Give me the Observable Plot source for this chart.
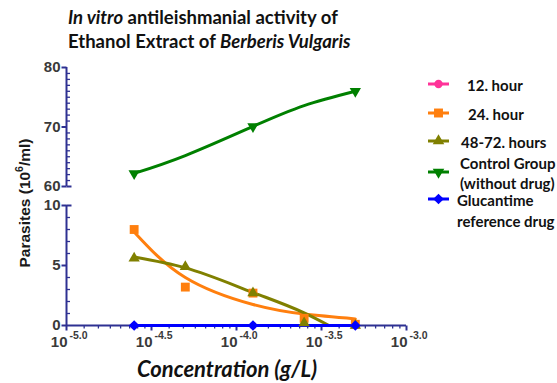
<!DOCTYPE html>
<html><head><meta charset="utf-8">
<script src="https://cdn.jsdelivr.net/npm/d3@7"></script>
<script src="https://cdn.jsdelivr.net/npm/@observablehq/plot@0.6"></script>
<style>
html,body{margin:0;padding:0;background:#fff}
body{width:557px;height:383px;overflow:hidden;position:relative;font-family:Lato,"Open Sans",sans-serif}
#chart{position:absolute;left:0;top:0}
#title{position:absolute;left:68px;top:5px;font-weight:bold;font-size:18.5px;line-height:24px;color:#111;white-space:nowrap}
#ylab{position:absolute;left:25px;top:203px;transform:translate(-50%,-50%) rotate(-90deg);font-family:"Liberation Sans",Arial,sans-serif;font-weight:bold;font-size:15.5px;color:#1a1a1a;white-space:nowrap}
#ylab sup{font-size:10.5px;vertical-align:7px;line-height:0}
#xlab{position:absolute;left:227px;top:357px;transform:translateX(-50%);font-weight:bold;font-style:italic;font-size:22px;line-height:23px;color:#111;white-space:nowrap}
.leg{position:absolute;left:426px;white-space:nowrap;font-weight:bold;font-size:15px;color:#111;line-height:20px}
.leg svg{position:absolute;left:0;top:0}
.leg span{position:absolute;white-space:nowrap}
</style></head><body>
<div id="chart"></div>
<div id="title"><i>In vitro</i> antileishmanial activity of<br>Ethanol Extract of <i>Berberis Vulgaris</i></div>
<div id="ylab">Parasites (10<sup>6</sup>/ml)</div>
<div id="xlab">Concentration (g/L)</div>
<div id="legend"></div>
<script>
// ---- data ----
const concentrations = [2.5e-5, 5e-5, 1.25e-4, 2.5e-4, 5e-4];
const hour24 = [8.0, 3.2, 2.7, 0.6, 0.1];
const hour48_72 = [5.6, 4.9, 2.7, 0.2, 0];
const fit24 = [7.8, 4.0, 1.75, 0.95, 0.55];
const fit48Conc = [2.5e-5, 5e-5, 1.25e-4, 2.5e-4, 3.5e-4];
const fit48 = [5.7, 4.8, 2.75, 1.05, 0];
const controlConc = [2.5e-5, 1.25e-4, 5e-4];
const control = [62.2, 70.1, 76.0];
const controlFit = [62.2, 65.2, 70.1, 73.6, 76.0];
const glucConc = [2.5e-5, 1.25e-4, 5e-4];
const glucantime = [0, 0, 0];
const hour12 = [0, 0, 0];
const xTickExponents = [-5.0, -4.5, -4.0, -3.5, -3.0];
const yTicksLower = [0, 5, 10];
const yTicksUpper = [60, 70, 80];
const seriesNames = ["12. hour", "24. hour", "48-72. hours", "Control Group\n(without drug)", "Glucantime\nreference drug"];
const seriesColors = ["#ff3399", "#ff7f0e", "#808000", "#008000", "#0000ff"];

const navy = "#2e3192";
const triDown = {draw(c, size) {
  const y = -Math.sqrt(size / (Math.sqrt(3) * 3));
  c.moveTo(0, -y * 2); c.lineTo(-Math.sqrt(3) * y, y); c.lineTo(Math.sqrt(3) * y, y); c.closePath();
}};
const tickL = {draw(c) { c.moveTo(0, 0); c.lineTo(-5, 0); }};
const tickR = {draw(c) { c.moveTo(0, 0); c.lineTo(5, 0); }};
const tickRs = {draw(c) { c.moveTo(0, 0); c.lineTo(3.5, 0); }};
const tickD = {draw(c) { c.moveTo(0, 0); c.lineTo(0, 5); }};
const tickDs = {draw(c) { c.moveTo(0, 0); c.lineTo(0, 3); }};

const rows = (xs, ys) => xs.map((x, i) => ({x, y: ys[i]}));
const xMajor = xTickExponents.map(e => 10 ** e);
const xMinor = xMajor.slice(0, -1).flatMap((a, i) => {
  const b = xMajor[i + 1];
  return d3.range(1, 8).map(k => a + k * (b - a) / 8);
});
const yMinor = [...d3.range(1, 10).filter(v => v !== 5), ...d3.range(61, 80).filter(v => v !== 70)];
const yMajor = [...yTicksLower, ...yTicksUpper];

const tickFont = {fontFamily: "Liberation Sans, Arial, sans-serif", fontWeight: "bold", fill: "#3a3a3a"};

const chart = Plot.plot({
  width: 557, height: 383,
  style: {background: "transparent", overflow: "visible"},
  x: {type: "log", domain: [1e-5, 1e-3], range: [66, 406], axis: null},
  y: {type: "linear", domain: [0, 10, 60, 80], range: [325, 205, 186, 67], axis: null},
  marks: [
    // axes
    Plot.ruleX([1e-5], {y1: 0, y2: 10, stroke: navy, strokeWidth: 2}),
    Plot.ruleX([1e-5], {y1: 60, y2: 80, stroke: navy, strokeWidth: 2}),
    Plot.ruleY([0], {x1: 1e-5, x2: 1e-3, stroke: navy, strokeWidth: 2}),
    Plot.dot(yMajor, {x: 1e-5, y: d => d, symbol: tickL, stroke: navy, strokeWidth: 2, fill: "none"}),
    Plot.dot([10, 60], {x: 1e-5, y: d => d, symbol: tickR, stroke: navy, strokeWidth: 2, fill: "none"}),
    Plot.dot(yMinor, {x: 1e-5, y: d => d, symbol: tickRs, stroke: navy, strokeWidth: 1.3, fill: "none"}),
    Plot.dot(xMajor, {x: d => d, y: 0, symbol: tickD, stroke: navy, strokeWidth: 2, fill: "none"}),
    Plot.dot(xMinor, {x: d => d, y: 0, symbol: tickDs, stroke: navy, strokeWidth: 1.3, fill: "none"}),
    Plot.text(yMajor, {x: 1e-5, y: d => d, text: d => String(d), textAnchor: "end", dx: -6, fontSize: 15, ...tickFont}),
    Plot.text(xTickExponents, {x: e => 10 ** e, y: 0, text: () => "10", textAnchor: "end", dx: 1, dy: 17, fontSize: 15, ...tickFont}),
    Plot.text(xTickExponents, {x: e => 10 ** e, y: 0, text: e => e.toFixed(1), textAnchor: "start", dx: 3, dy: 10, fontSize: 10.5, ariaLabel: "xexp", ...tickFont}),
    // fitted curves
    Plot.line(rows(concentrations, fit24), {x: "x", y: "y", stroke: seriesColors[1], strokeWidth: 3, curve: "natural"}),
    Plot.line(rows(fit48Conc, fit48), {x: "x", y: "y", stroke: seriesColors[2], strokeWidth: 3, curve: "monotone-x"}),
    Plot.line(rows(concentrations, controlFit), {x: "x", y: "y", stroke: seriesColors[3], strokeWidth: 3, curve: "natural"}),
    Plot.line(rows(glucConc, hour12), {x: "x", y: "y", stroke: seriesColors[0], strokeWidth: 3}),
    Plot.line(rows(glucConc, glucantime), {x: "x", y: "y", stroke: seriesColors[4], strokeWidth: 3.2}),
    // points
    Plot.dot(rows(glucConc, hour12), {x: "x", y: "y", symbol: "circle", r: 3.5, fill: seriesColors[0]}),
    Plot.dot(rows(concentrations, hour24), {x: "x", y: "y", symbol: "square", r: 5, fill: seriesColors[1]}),
    Plot.dot(rows(concentrations, hour48_72), {x: "x", y: "y", symbol: "triangle", r: 4.2, fill: seriesColors[2]}),
    Plot.dot(rows(controlConc, control), {x: "x", y: "y", symbol: triDown, r: 4.2, fill: seriesColors[3]}),
    Plot.dot(rows(glucConc, glucantime), {x: "x", y: "y", symbol: "diamond2", r: 4.8, fill: seriesColors[4]})
  ]
});
d3.select(chart).selectAll('g[aria-label="xexp"] text').style("letter-spacing", "2px");
document.getElementById("chart").append(chart);

// ---- legend ----
const legTop = [84, 113, 141, 172, 199];
const legTextX = [41, 42, 35, 34, 31];
const legTextOff = [[2], [2], [2], [-8, 12], [2, 23]];
const legSym = [d3.symbolCircle, d3.symbolSquare, d3.symbolTriangle, triDown, d3.symbolDiamond2];
const legSize = [55, 80, 58, 58, 72];
const legend = d3.select("#legend");
seriesNames.forEach((name, i) => {
  const lines = name.split("\n");
  const item = legend.append("div").attr("class", "leg").style("top", (legTop[i] - 10) + "px");
  const svg = item.append("svg").attr("width", 28).attr("height", 20);
  svg.append("line").attr("x1", 2).attr("x2", 23).attr("y1", 10).attr("y2", 10)
    .attr("stroke", seriesColors[i]).attr("stroke-width", 3);
  svg.append("path").attr("transform", "translate(12.5,10)")
    .attr("d", d3.symbol(legSym[i], legSize[i])()).attr("fill", seriesColors[i]);
  lines.forEach((t, j) => {
    item.append("span").style("left", legTextX[i] + "px").style("top", (legTextOff[i][j] - 1) + "px").text(t);
  });
});
</script>
</body></html>
